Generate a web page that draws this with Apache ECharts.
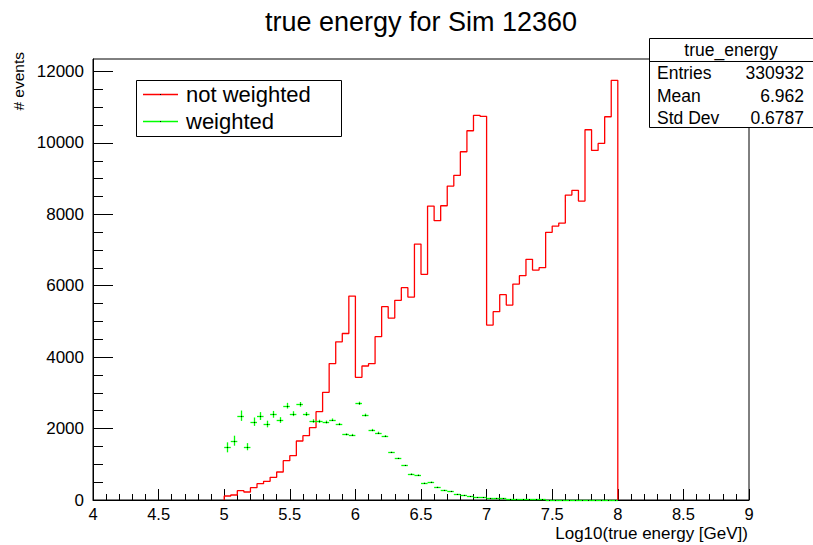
<!DOCTYPE html>
<html>
<head>
<meta charset="utf-8">
<script src="https://cdn.jsdelivr.net/npm/echarts@6/dist/echarts.min.js"></script>
<style>
html,body{margin:0;padding:0;background:#fff;}
#chart{width:813px;height:545px;}
</style>
</head>
<body>
<div id="chart"></div>
<script>
// ---- data ----
const binLow = 5.0;       // first filled bin low edge
const binWidth = 0.05;    // bin width in log10(E)
const notWeighted = [112,140,261,224,345,457,523,635,784,1100,
  1241,1652,1801,2025,2473,3015,3820,4430,4663,5711,
  3436,3752,3817,4573,5413,5096,5591,5945,5684,7168,
  6319,8232,7821,8241,8792,9091,9752,10340,10772,10744,
  4900,5273,5749,5460,6048,6281,6739,6440,6505,7495,
  7672,7756,8540,8672,8372,10368,9791,9987,10733,11752];
const weighted = [1475,1661,2361,1493,2193,2352,2128,2399,2240,2641,
  2417,2679,2408,2212,2203,2184,2249,2128,1839,1829,
  2707,2380,1960,1885,1792,1335,1167,971,737,709,
  485,513,373,289,252,177,149,112,84,75,
  70,60,50,42,35,28,23,19,16,13,
  11,9,8,6,5,4,3.5,3,2.5,2];
const weightedErr = [140,140,145,100,118,110,93,95,80,80,
  69,66,57,49,44,40,34,32,27,24,
  46,39,32,28,24,19,16,13,10,8,
  6,6,4,3,3,2,2,1,1,1,
  1,1,1,1,1,1,0,0,0,0,
  0,0,0,0,0,0,0,0,0,0];
const xTicks = [4,4.5,5,5.5,6,6.5,7,7.5,8,8.5,9];
const yTicks = [0,2000,4000,6000,8000,10000,12000];
const yMinorTicks = [500,1000,1500,2500,3000,3500,4500,5000,5500,6500,7000,7500,
  8500,9000,9500,10500,11000,11500];
const statsRows = [['Entries','330932'],['Mean','6.962'],['Std Dev','0.6787']];
const legendLabels = ['not weighted','weighted'];

// ---- chart ----
const FONT = '"Liberation Sans", Arial, Helvetica, sans-serif';
const RED = '#ff0000', GREEN = '#00ff00', LW = 1.3;
const chart = echarts.init(document.getElementById('chart'), null, {renderer:'svg'});

const redData = [[binLow, 0]]
  .concat(notWeighted.map((v,i)=>[binLow + i*binWidth, v]))
  .concat([[binLow + notWeighted.length*binWidth, 0]]);
const greenData = weighted.map((v,i)=>[binLow + (i+0.5)*binWidth, v, weightedErr[i]]);

const graphics = [
  {type:'text', x:421, y:22, style:{text:'true energy for Sim 12360', fontSize:27, fontFamily:FONT, fill:'#000', textAlign:'center', textVerticalAlign:'middle'}},
  {type:'text', x:18, y:52, rotation:Math.PI/2, style:{text:'# events', fontSize:15.5, fontFamily:FONT, fill:'#000', textAlign:'right', textVerticalAlign:'middle'}},
  {type:'text', x:748, y:533, style:{text:'Log10(true energy [GeV])', fontSize:17, fontFamily:FONT, fill:'#000', textAlign:'right', textVerticalAlign:'middle'}},
  // legend
  {type:'rect', z:10, shape:{x:136.5, y:80.5, width:205, height:56}, style:{fill:'#fff', stroke:'#000', lineWidth:1}},
  {type:'line', z:11, shape:{x1:143, y1:94.5, x2:178, y2:94.5}, style:{stroke:RED, lineWidth:LW}},
  {type:'rect', z:12, shape:{x:160, y:94, width:1, height:1}, style:{fill:'#000'}},
  {type:'text', z:11, x:186, y:94, style:{text:legendLabels[0], fontSize:22, fontFamily:FONT, fill:'#000', textVerticalAlign:'middle'}},
  {type:'line', z:11, shape:{x1:143, y1:121.5, x2:178, y2:121.5}, style:{stroke:GREEN, lineWidth:LW}},
  {type:'rect', z:12, shape:{x:160, y:121, width:1, height:1}, style:{fill:'#000'}},
  {type:'text', z:11, x:186, y:121, style:{text:legendLabels[1], fontSize:22, fontFamily:FONT, fill:'#000', textVerticalAlign:'middle'}},
  // stats box
  {type:'rect', z:10, shape:{x:649.5, y:38.5, width:170, height:89}, style:{fill:'#fff', stroke:'#000', lineWidth:1}},
  {type:'line', z:11, shape:{x1:649.5, y1:61.5, x2:813, y2:61.5}, style:{stroke:'#000', lineWidth:1}},
  {type:'text', z:11, x:731, y:49.5, style:{text:'true_energy', fontSize:17.5, fontFamily:FONT, fill:'#000', textAlign:'center', textVerticalAlign:'middle'}}
];
statsRows.forEach((r,k)=>{
  const yy = 73 + k*22.5;
  graphics.push({type:'text', z:11, x:657, y:yy, style:{text:r[0], fontSize:17.5, fontFamily:FONT, fill:'#000', textVerticalAlign:'middle'}});
  graphics.push({type:'text', z:11, x:804, y:yy, style:{text:r[1], fontSize:17.5, fontFamily:FONT, fill:'#000', textAlign:'right', textVerticalAlign:'middle'}});
});

const option = {
  animation:false,
  backgroundColor:'#fff',
  grid:{left:93, right:64, top:59, bottom:45, show:true, borderColor:'#000', borderWidth:1, backgroundColor:'#fff'},
  xAxis:{
    type:'value', min:xTicks[0], max:xTicks[xTicks.length-1], interval:0.5,
    axisLine:{show:true, onZero:false, lineStyle:{color:'#000', width:1}},
    axisTick:{show:true, inside:true, length:11, lineStyle:{color:'#000'}},
    minorTick:{show:true, splitNumber:5, length:6, lineStyle:{color:'#000'}},
    axisLabel:{color:'#000', fontSize:16.5, fontFamily:FONT, margin:5, formatter:(v)=>String(v)},
    splitLine:{show:false}
  },
  yAxis:[{
    type:'value', min:0, max:12350,
    axisLine:{show:true, lineStyle:{color:'#000', width:1}},
    axisTick:{show:true, inside:true, length:20, customValues:yTicks, lineStyle:{color:'#000'}},
    axisLabel:{color:'#000', fontSize:17, fontFamily:FONT, margin:9, customValues:yTicks, formatter:(v)=>String(v)},
    splitLine:{show:false}
  },{
    type:'value', min:0, max:12350, position:'left',
    axisLine:{show:false},
    axisTick:{show:true, inside:true, length:10, customValues:yMinorTicks, lineStyle:{color:'#000'}},
    axisLabel:{show:false},
    splitLine:{show:false}
  }],
  graphic:graphics,
  series:[{
    type:'line', step:'end', data:redData, xAxisIndex:0, yAxisIndex:0,
    showSymbol:false, symbol:'none', lineStyle:{color:RED, width:LW}, z:3, silent:true
  },{
    type:'custom', data:greenData, xAxisIndex:0, yAxisIndex:0, z:4, silent:true,
    renderItem:function(params, api){
      const xc = api.value(0), v = api.value(1), e = api.value(2);
      const pL = api.coord([xc - binWidth/2, v]);
      const pR = api.coord([xc + binWidth/2, v]);
      const pc = api.coord([xc, v]);
      const yy = Math.round(pc[1]) + 0.5;
      const xx = Math.round(pc[0]) + 0.5;
      const children = [{type:'line', shape:{x1:pL[0], y1:yy, x2:pR[0], y2:yy}, style:{stroke:GREEN, lineWidth:LW}}];
      if (e > 0) {
        const pT = api.coord([xc, v + e]);
        const pB = api.coord([xc, v - e]);
        children.push({type:'line', shape:{x1:xx, y1:pT[1], x2:xx, y2:pB[1]}, style:{stroke:GREEN, lineWidth:LW}});
      }
      children.push({type:'rect', shape:{x:xx-0.5, y:yy-0.5, width:1, height:1}, style:{fill:'#000'}});
      return {type:'group', children:children};
    }
  }]
};
chart.setOption(option);
</script>
</body>
</html>
